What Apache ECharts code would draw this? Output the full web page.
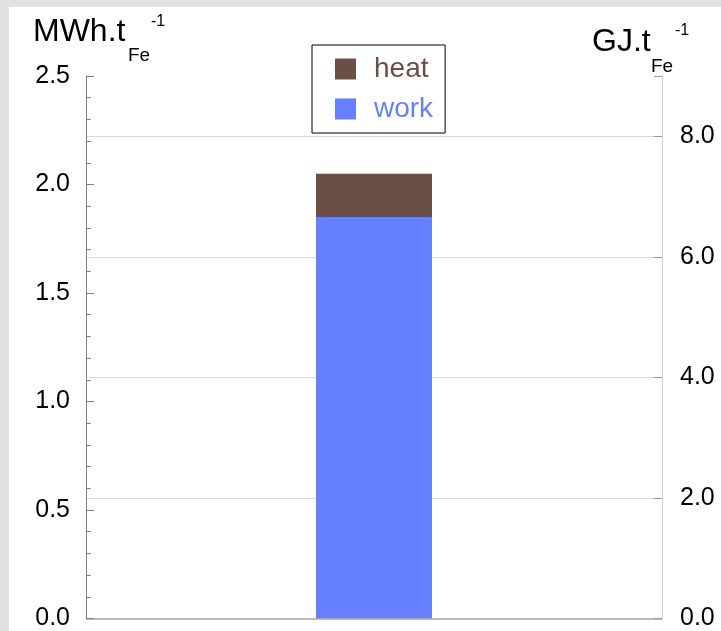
<!DOCTYPE html>
<html>
<head>
<meta charset="utf-8">
<script src="https://cdn.jsdelivr.net/npm/echarts@6/dist/echarts.min.js"></script>
<style>
  html, body { margin: 0; padding: 0; background: #e1e1e1; }
  #chart { position: absolute; left: 9px; top: 7px; width: 712px; height: 624px; background: #fff; }
</style>
</head>
<body>
<div id="chart"></div>
<script>
// MWh per tonne of iron
var categories = [''];
var workValues = [1.85];
var heatValues = [0.20];
var seriesColors = ['#6b4e45', '#6680ff'];
var leftMax = 2.5;
var rightMax = 9; // 2.5 MWh = 9 GJ

var font = 'Liberation Sans, Arial, sans-serif';
var myChart = echarts.init(document.getElementById('chart'));

var option = {
  animation: false,
  grid: { left: 77, top: 69, right: 59, bottom: 11 },
  legend: {
    left: 303, top: 38,
    orient: 'vertical',
    data: [
      { name: 'heat', textStyle: { color: seriesColors[0] } },
      { name: 'work', textStyle: { color: seriesColors[1] } }
    ],
    icon: 'rect',
    itemWidth: 21, itemHeight: 21,
    itemGap: 12,
    padding: [10, 12, 10, 23],
    borderColor: '#000', borderWidth: 1,
    textStyle: { fontSize: 28, fontFamily: font, padding: [0, 0, 0, 13] }
  },
  graphic: [
    { type: 'text', left: 24, top: 9, style: { text: 'MWh.t', fontSize: 32, fontFamily: font, fill: '#000' } },
    { type: 'text', left: 119, top: 39, style: { text: 'Fe', fontSize: 19, fontFamily: font, fill: '#000' } },
    { type: 'text', left: 142, top: 7, style: { text: '-1', fontSize: 16, fontFamily: font, fill: '#000' } },
    { type: 'text', left: 583, top: 19, style: { text: 'GJ.t', fontSize: 32, fontFamily: font, fill: '#000' } },
    { type: 'text', left: 642, top: 50, style: { text: 'Fe', fontSize: 19, fontFamily: font, fill: '#000' } },
    { type: 'text', left: 666, top: 16, style: { text: '-1', fontSize: 16, fontFamily: font, fill: '#000' } }
  ],
  xAxis: {
    type: 'category',
    data: categories,
    axisLine: { lineStyle: { color: '#a6a6a6', width: 1.5 } },
    axisTick: { show: false },
    axisLabel: { show: false }
  },
  yAxis: [
    {
      type: 'value', position: 'left',
      min: 0, max: leftMax, interval: 0.5,
      axisLine: { show: true, lineStyle: { color: '#808080' } },
      axisTick: { show: true, inside: true, length: 8, lineStyle: { color: '#808080' } },
      minorTick: { show: true, splitNumber: 5, length: 5, lineStyle: { color: '#808080' } },
      splitLine: { show: false },
      axisLabel: {
        margin: 16, fontSize: 25, fontFamily: font, color: '#000',
        formatter: function (v) { return v.toFixed(1); }
      }
    },
    {
      type: 'value', position: 'right',
      min: 0, max: rightMax, interval: 2,
      axisLine: { show: true, lineStyle: { color: '#d4d4d4' } },
      axisTick: { show: true, inside: true, length: 8, lineStyle: { color: '#999' } },
      splitLine: {
        show: true,
        lineStyle: { color: ['rgba(0,0,0,0)', '#d9d9d9', '#d9d9d9', '#d9d9d9', '#d9d9d9', 'rgba(0,0,0,0)'] }
      },
      axisLabel: {
        margin: 18, fontSize: 25, fontFamily: font, color: '#000',
        formatter: function (v) { return v === rightMax ? '' : v.toFixed(1); }
      }
    }
  ],
  series: [
    {
      name: 'work', type: 'bar', stack: 'total', yAxisIndex: 0,
      barWidth: 116,
      itemStyle: { color: seriesColors[1] },
      data: workValues
    },
    {
      name: 'heat', type: 'bar', stack: 'total', yAxisIndex: 0,
      barWidth: 116,
      itemStyle: { color: seriesColors[0] },
      data: heatValues
    }
  ]
};
myChart.setOption(option);
</script>
</body>
</html>
